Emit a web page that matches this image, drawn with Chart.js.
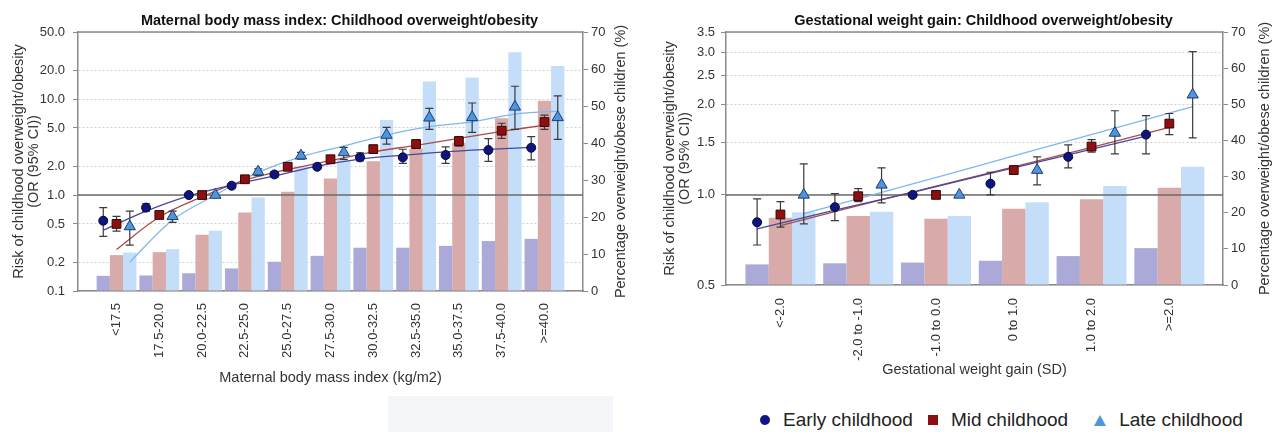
<!DOCTYPE html>
<html>
<head>
<meta charset="utf-8">
<script src="https://cdn.jsdelivr.net/npm/chart.js@4.4.1/dist/chart.umd.min.js"></script>
<style>
  html, body { margin: 0; padding: 0; background: #fff; overflow: hidden; }
  body { width: 1279px; height: 432px; position: relative; font-family: 'Liberation Sans', Arial, sans-serif; }
  #bmiChart { position: absolute; left: 0; top: 0; }
  #gwgChart { position: absolute; left: 640px; top: 0; }
  .patch { position: absolute; left: 388px; top: 396px; width: 225px; height: 36px; background: #f3f5f8; }
  #legend { position: absolute; left: 760px; top: 408px; height: 24px; display: flex; align-items: center;
            font-size: 19px; color: #222; white-space: nowrap; }
  #legend .mk { display: inline-block; margin-right: 13px; }
  #legend .lbl { margin-right: 15px; }
  #legend .circle { width: 10px; height: 10px; border-radius: 50%; background: #0f1580; }
  #legend .square { width: 10px; height: 10px; background: #8c1010; }
  #legend .tri { width: 0; height: 0; border-left: 6px solid transparent; border-right: 6px solid transparent;
                 border-bottom: 11px solid #4f95dd; }
</style>
</head>
<body>
<canvas id="bmiChart" width="640" height="400"></canvas>
<canvas id="gwgChart" width="639" height="395"></canvas>
<div class="patch"></div>
<div id="legend">
  <span class="mk circle"></span><span class="lbl">Early childhood</span>
  <span class="mk square"></span><span class="lbl" style="margin-right:26px">Mid childhood</span>
  <span class="mk tri"></span><span class="lbl">Late childhood</span>
</div>
<script>
// ---- maternal BMI panel ----
const bmiCats = ['<17.5', '17.5-20.0', '20.0-22.5', '22.5-25.0', '25.0-27.5', '27.5-30.0',
                 '30.0-32.5', '32.5-35.0', '35.0-37.5', '37.5-40.0', '>=40.0'];
// percentage overweight/obese children (right axis)
const bmiPctEarly = [4.1, 4.2, 4.8, 6.1, 7.9, 9.5, 11.7, 11.7, 12.2, 13.5, 14.1];
const bmiPctMid   = [9.7, 10.5, 15.2, 21.2, 26.8, 30.4, 35.1, 38.5, 40.1, 46.7, 51.4];
const bmiPctLate  = [10.4, 11.3, 16.3, 25.3, 33.6, 35.4, 46.2, 56.6, 57.7, 64.5, 60.8];
// odds ratios with 95% CI (left axis)
const bmiOrEarly = [0.54, 0.74, 1.0, 1.25, 1.64, 1.97, 2.47, 2.47, 2.61, 2.94, 3.11];
const bmiLoEarly = [0.37, 0.68, null, 1.19, 1.53, 1.87, 2.27, 2.14, 2.14, 2.24, 2.33];
const bmiHiEarly = [0.74, 0.81, null, 1.31, 1.75, 2.09, 2.76, 3.0, 3.18, 3.88, 4.06];
const bmiOrMid   = [0.50, 0.62, 1.0, 1.46, 1.97, 2.36, 3.01, 3.4, 3.65, 4.68, 5.76];
const bmiLoMid   = [0.42, 0.58, null, 1.38, 1.88, 2.25, 2.88, 3.06, 3.24, 3.9, 4.84];
const bmiHiMid   = [0.60, 0.66, null, 1.54, 2.06, 2.47, 3.15, 3.75, 4.06, 5.6, 6.8];
const bmiOrLate  = [0.47, 0.60, 1.0, 1.75, 2.57, 2.78, 4.22, 6.39, 6.45, 8.3, 6.45];
const bmiLoLate  = [0.30, 0.52, null, 1.59, 2.37, 2.35, 3.4, 4.84, 4.5, 4.84, 3.8];
const bmiHiLate  = [0.68, 0.68, null, 1.87, 2.78, 3.14, 5.06, 8.0, 9.1, 13.6, 10.8];
// fitted trend curves
const bmiFitEarly = [0.43, 0.68, 0.98, 1.27, 1.58, 2.0, 2.37, 2.6, 2.82, 2.99, 3.14];
const bmiFitMid   = [0.27, 0.59, 0.96, 1.43, 1.85, 2.28, 2.82, 3.3, 3.9, 4.6, 5.35];
const bmiFitLate  = [0.20, 0.55, 1.0, 1.72, 2.5, 3.24, 4.22, 5.15, 5.8, 6.97, 7.5];
const bmiOrTicks = [0.1, 0.2, 0.5, 1, 2, 5, 10, 20, 50];

// ---- gestational weight gain panel ----
const gwgCats = ['<-2.0', '-2.0 to -1.0', '-1.0 to 0.0', '0 to 1.0', '1.0 to 2.0', '>=2.0'];
const gwgPctEarly = [5.7, 6.0, 6.2, 6.7, 8.0, 10.2];
const gwgPctMid   = [18.6, 19.1, 18.3, 21.1, 23.7, 26.9];
const gwgPctLate  = [20.1, 20.3, 19.1, 22.9, 27.4, 32.7];
const gwgOrEarly = [0.81, 0.91, 1.0, 1.09, 1.34, 1.59];
const gwgLoEarly = [0.68, 0.82, null, 1.0, 1.23, 1.37];
const gwgHiEarly = [0.97, 1.01, null, 1.19, 1.47, 1.84];
const gwgOrMid   = [0.86, 0.99, 1.0, 1.21, 1.45, 1.73];
const gwgLoMid   = [0.78, 0.95, null, 1.17, 1.39, 1.59];
const gwgHiMid   = [0.95, 1.05, null, 1.25, 1.53, 1.87];
const gwgOrLate  = [1.0, 1.08, 1.0, 1.21, 1.61, 2.16];
const gwgLoLate  = [0.80, 0.94, null, 1.08, 1.37, 1.55];
const gwgHiLate  = [1.27, 1.23, null, 1.34, 1.91, 3.01];
const gwgFitEarly = [0.77, 0.89, 1.02, 1.18, 1.36, 1.57];
const gwgFitMid   = [0.79, 0.92, 1.07, 1.24, 1.44, 1.68];
const gwgFitLate  = [0.865, 1.02, 1.20, 1.42, 1.67, 1.97];
const gwgOrTicks = [0.5, 1, 1.5, 2, 2.5, 3, 3.5];

const fontFamily = "'Liberation Sans', Arial, sans-serif";
Chart.defaults.font.family = fontFamily;
const axisGrey = '#8a8a8a';
const textGrey = '#333';

// reference line at OR = 1, error bars, top frame and the two extra titles
const panelExtras = {
    id: 'panelExtras',
    beforeDatasetDraw(chart, args) {
        const ds = chart.data.datasets[args.index];
        const ctx = chart.ctx;
        const area = chart.chartArea;
        const yOr = chart.scales.yOr;
        if (ds.refLine) {
            const py = yOr.getPixelForValue(1);
            ctx.save();
            ctx.strokeStyle = '#6a6a6a';
            ctx.lineWidth = 1.5;
            ctx.beginPath();
            ctx.moveTo(area.left, py);
            ctx.lineTo(area.right, py);
            ctx.stroke();
            ctx.restore();
        }
        if (ds.errLo) {
            const meta = chart.getDatasetMeta(args.index);
            ctx.save();
            ctx.strokeStyle = '#3a3a3a';
            ctx.lineWidth = 1.2;
            meta.data.forEach((pt, i) => {
                if (ds.errLo[i] == null) return;
                const y1 = yOr.getPixelForValue(ds.errLo[i]);
                const y2 = yOr.getPixelForValue(ds.errHi[i]);
                ctx.beginPath();
                ctx.moveTo(pt.x, y1); ctx.lineTo(pt.x, y2);
                ctx.moveTo(pt.x - 4, y1); ctx.lineTo(pt.x + 4, y1);
                ctx.moveTo(pt.x - 4, y2); ctx.lineTo(pt.x + 4, y2);
                ctx.stroke();
            });
            ctx.restore();
        }
    },
    afterDraw(chart, args, opts) {
        const ctx = chart.ctx;
        const area = chart.chartArea;
        ctx.save();
        ctx.strokeStyle = axisGrey;
        ctx.lineWidth = 1.5;
        ctx.beginPath();
        ctx.moveTo(area.left, area.top);
        ctx.lineTo(area.right, area.top);
        ctx.stroke();
        ctx.textAlign = 'center';
        ctx.textBaseline = 'middle';
        ctx.fillStyle = '#111';
        ctx.font = 'bold 14.5px ' + fontFamily;
        ctx.fillText(opts.title, (area.left + area.right) / 2 + opts.titleShift, opts.titleY);
        ctx.fillStyle = textGrey;
        ctx.font = '14.5px ' + fontFamily;
        ctx.translate(area.right + opts.rightTitleGap, (area.top + area.bottom) / 2);
        ctx.rotate(-Math.PI / 2);
        ctx.fillText(opts.rightTitle, 0, 0);
        ctx.restore();
    }
};

function buildPanel(canvasId, p) {
    const chunk = p.catPct / 3;
    const at = (vals, shift) => vals.map((v, i) => ({ x: i + 1 + shift, y: v }));
    const bar = (label, vals, color, order) => ({
        type: 'bar', label, data: at(vals, 0), backgroundColor: color, borderWidth: 0,
        barPercentage: 1, categoryPercentage: p.catPct, yAxisID: 'yPct', order
    });
    const trend = (vals, shift, color, order, refLine) => ({
        type: 'line', data: at(vals, shift), borderColor: color, borderWidth: 1.3, pointRadius: 0,
        tension: p.tension, fill: false, yAxisID: 'yOr', order, refLine
    });
    const pts = (label, vals, lo, hi, shift, style, fill, edge, r, order) => ({
        type: 'line', label, showLine: false, data: at(vals, shift), errLo: lo, errHi: hi,
        pointStyle: style, pointRadius: r, pointBackgroundColor: fill, pointBorderColor: edge,
        pointBorderWidth: 1, backgroundColor: fill, borderColor: edge, yAxisID: 'yOr', order
    });

    return new Chart(document.getElementById(canvasId), {
        type: 'bar',
        data: {
            datasets: [
                bar('Early childhood %', p.pctEarly, '#aba9d7', 10),
                bar('Mid childhood %', p.pctMid, '#d8aaaa', 11),
                bar('Late childhood %', p.pctLate, '#c4ddf9', 12),
                trend(p.fitEarly, -chunk, '#47479e', 5),
                trend(p.fitMid, 0, '#aa4a4a', 6),
                trend(p.fitLate, chunk, '#7db7ee', 7, true),
                pts('Early childhood', p.orEarly, p.loEarly, p.hiEarly, -chunk, 'circle', '#0f1580', '#050833', 4.5, 3),
                pts('Mid childhood', p.orMid, p.loMid, p.hiMid, 0, 'rect', '#8c1010', '#3a0505', 6.2, 2),
                pts('Late childhood', p.orLate, p.loLate, p.hiLate, chunk, 'triangle', '#4f95dd', '#1c3c70', 6.5, 1)
            ]
        },
        options: {
            responsive: false,
            animation: false,
            events: [],
            layout: { padding: { top: 32, left: 0, right: 0, bottom: 0 } },
            plugins: {
                legend: { display: false },
                tooltip: { enabled: false },
                panelExtras: { title: p.title, titleShift: 9, titleY: 20.5, rightTitle: 'Percentage overweight/obese children (%)', rightTitleGap: p.rightTitleGap }
            },
            scales: {
                x: {
                    type: 'linear', min: p.xMin, max: p.xMax, offset: false,
                    afterBuildTicks: s => { s.ticks = p.cats.map((c, i) => ({ value: i + 1 })); },
                    afterFit: s => { s.height = p.xHeight; },
                    ticks: { callback: (v, i) => p.cats[i], minRotation: 90, maxRotation: 90, autoSkip: false,
                             padding: p.xPad, color: textGrey, font: { size: 13 } },
                    grid: { display: false, drawTicks: false },
                    border: { display: true, color: axisGrey, width: 1.5 },
                    title: { display: true, text: p.xTitle, color: textGrey, font: { size: 14.5 },
                             padding: { top: 0, bottom: p.xTitlePad } }
                },
                yOr: {
                    type: 'logarithmic', position: 'left', min: p.orMin, max: p.orMax,
                    afterBuildTicks: s => { s.ticks = p.orTicks.map(v => ({ value: v })); },
                    afterFit: s => { s.width = p.leftWidth; },
                    ticks: { callback: v => Number(v).toFixed(1), color: textGrey, font: { size: 13 }, padding: p.leftPad },
                    grid: { color: '#d0d0d0', lineWidth: 1, drawTicks: true, tickLength: 5, tickColor: axisGrey },
                    border: { display: true, color: axisGrey, width: 1.5, dash: [2, 2] },
                    title: { display: true, text: ['Risk of childhood overweight/obesity', '(OR (95% CI))'],
                             color: textGrey, font: { size: 14.5, lineHeight: 1.05 }, padding: { top: p.yTitlePad, bottom: 0 } }
                },
                yPct: {
                    type: 'linear', position: 'right', min: 0, max: 70,
                    afterFit: s => { s.width = p.rightWidth; },
                    ticks: { stepSize: 10, color: textGrey, font: { size: 13 }, padding: 3 },
                    grid: { drawOnChartArea: false, drawTicks: true, tickLength: 5, tickColor: axisGrey },
                    border: { display: true, color: axisGrey, width: 1.5 }
                }
            }
        },
        plugins: [panelExtras]
    });
}

buildPanel('bmiChart', {
    title: 'Maternal body mass index: Childhood overweight/obesity',
    xTitle: 'Maternal body mass index (kg/m2)',
    cats: bmiCats,
    pctEarly: bmiPctEarly, pctMid: bmiPctMid, pctLate: bmiPctLate,
    orEarly: bmiOrEarly, loEarly: bmiLoEarly, hiEarly: bmiHiEarly,
    orMid: bmiOrMid, loMid: bmiLoMid, hiMid: bmiHiMid,
    orLate: bmiOrLate, loLate: bmiLoLate, hiLate: bmiHiLate,
    fitEarly: bmiFitEarly, fitMid: bmiFitMid, fitLate: bmiFitLate,
    orTicks: bmiOrTicks, orMin: 0.1, orMax: 50,
    xMin: 0.1, xMax: 11.9, catPct: 0.93, tension: 0.35,
    leftWidth: 78, rightWidth: 57, xHeight: 109,
    leftPad: 8, xPad: 12, xTitlePad: 13, yTitlePad: 11, rightTitleGap: 38
});

buildPanel('gwgChart', {
    title: 'Gestational weight gain: Childhood overweight/obesity',
    xTitle: 'Gestational weight gain (SD)',
    cats: gwgCats,
    pctEarly: gwgPctEarly, pctMid: gwgPctMid, pctLate: gwgPctLate,
    orEarly: gwgOrEarly, loEarly: gwgLoEarly, hiEarly: gwgHiEarly,
    orMid: gwgOrMid, loMid: gwgLoMid, hiMid: gwgHiMid,
    orLate: gwgOrLate, loLate: gwgLoLate, hiLate: gwgHiLate,
    fitEarly: gwgFitEarly, fitMid: gwgFitMid, fitLate: gwgFitLate,
    orTicks: gwgOrTicks, orMin: 0.5, orMax: 3.5,
    xMin: 0.3, xMax: 6.69, catPct: 0.9, tension: 0,
    leftWidth: 86, rightWidth: 56, xHeight: 110,
    leftPad: 6, xPad: 13, xTitlePad: 16, yTitlePad: 22, rightTitleGap: 42
});
</script>
</body>
</html>
